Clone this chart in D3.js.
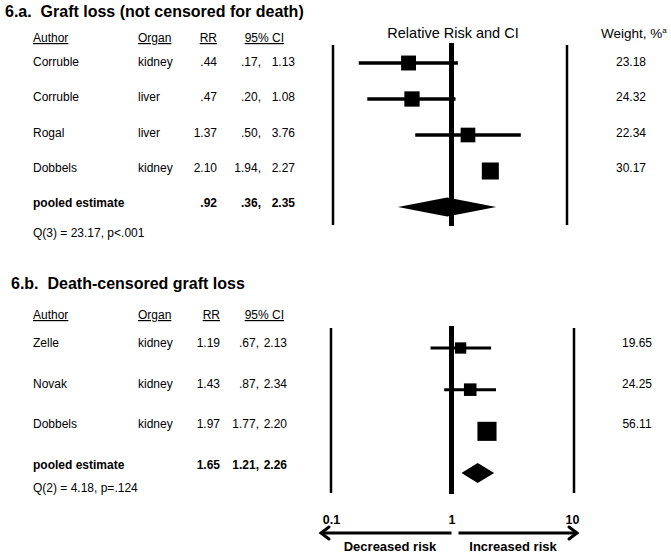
<!DOCTYPE html>
<html><head><meta charset="utf-8">
<script src="https://cdn.jsdelivr.net/npm/d3@7"></script>
<style>body{margin:0;background:#fff} text{font-family:"Liberation Sans",Arial,sans-serif;fill:#000}</style>
</head><body>
<svg id="c" width="671" height="555"></svg>
<script>
// ---- Data: panel 6.a ----
const authorsA = ["Corruble","Corruble","Rogal","Dobbels"];
const organsA  = ["kidney","liver","liver","kidney"];
const rrA      = [0.44, 0.47, 1.37, 2.10];
const loA      = [0.17, 0.20, 0.50, 1.94];
const hiA      = [1.13, 1.08, 3.76, 2.27];
const weightA  = [23.18, 24.32, 22.34, 30.17];
const pooledA  = [0.92, 0.36, 2.35];
const statA    = "Q(3) = 23.17, p<.001";
// ---- Data: panel 6.b ----
const authorsB = ["Zelle","Novak","Dobbels"];
const organsB  = ["kidney","kidney","kidney"];
const rrB      = [1.19, 1.43, 1.97];
const loB      = [0.67, 0.87, 1.77];
const hiB      = [2.13, 2.34, 2.20];
const weightB  = [19.65, 24.25, 56.11];
const pooledB  = [1.65, 1.21, 2.26];
const statB    = "Q(2) = 4.18, p=.124";
// ---- axis ----
const axisTicks = [0.1, 1, 10];
const axisTickLabels = ["0.1", "1", "10"];

const svg = d3.select("#c");
const x = d3.scaleLog().domain([0.1, 10]).range([331, 572]);
const fmt = v => d3.format(".2f")(v).replace(/^0\./, ".");

function panel(o) {
  const g = svg.append("g");
  const n = o.authors.length;
  const idx = d3.range(n + 1);
  const ty = d3.scalePoint().domain(idx).range(o.textRange);
  const my = d3.scalePoint().domain(idx).range(o.markRange);
  const sz = d3.scaleSqrt().domain([0, 100]).range([0, o.sizeMax]);

  g.append("text").attr("x", o.titleX).attr("y", o.titleY)
    .attr("font-size", 16).attr("font-weight", "bold").attr("xml:space","preserve").text(o.title);

  // headers
  const hdr = [
    {t: "Author", x: 33, a: "start"},
    {t: "Organ", x: 138, a: "start"},
    {t: "RR", x: o.rrX, a: "end"},
    {t: "95% CI", x: o.ciX, a: "end"}
  ];
  hdr.forEach(h => {
    const t = g.append("text").attr("x", h.x).attr("y", o.headY)
      .attr("font-size", 12).attr("text-anchor", h.a)
      .attr("text-decoration", "underline").text(h.t);
  });

  // rows
  o.authors.forEach((a, i) => {
    const y = ty(i) + 4;
    g.append("text").attr("x", 33).attr("y", y).attr("font-size", 12).text(a);
    g.append("text").attr("x", 138).attr("y", y).attr("font-size", 12).text(o.organs[i]);
    g.append("text").attr("x", o.rrX).attr("y", y).attr("font-size", 12).attr("text-anchor", "end").text(fmt(o.rr[i]));
    g.append("text").attr("x", o.loX).attr("y", y).attr("font-size", 12).attr("text-anchor", "end").text(fmt(o.lo[i]) + ",");
    g.append("text").attr("x", o.hiX).attr("y", y).attr("font-size", 12).attr("text-anchor", "end").text(fmt(o.hi[i]));
    g.append("text").attr("x", o.wX).attr("y", y).attr("font-size", 12).attr("text-anchor", "middle").text(d3.format(".2f")(o.weight[i]));
  });
  // pooled row
  const py = ty(n) + 4;
  g.append("text").attr("x", 33).attr("y", py).attr("font-size", 12).attr("font-weight", "bold").text("pooled estimate");
  g.append("text").attr("x", o.rrX).attr("y", py).attr("font-size", 12).attr("font-weight", "bold").attr("text-anchor", "end").text(fmt(o.pooled[0]));
  g.append("text").attr("x", o.loX).attr("y", py).attr("font-size", 12).attr("font-weight", "bold").attr("text-anchor", "end").text(fmt(o.pooled[1]) + ",");
  g.append("text").attr("x", o.hiX).attr("y", py).attr("font-size", 12).attr("font-weight", "bold").attr("text-anchor", "end").text(fmt(o.pooled[2]));
  g.append("text").attr("x", 33).attr("y", o.statY).attr("font-size", 12).text(o.stat);

  // frame lines
  g.append("line").attr("x1", x(0.1) + o.lOff).attr("x2", x(0.1) + o.lOff)
    .attr("y1", o.frameTop).attr("y2", o.frameBot).attr("stroke", "#000").attr("stroke-width", 2.5);
  g.append("line").attr("x1", x(10) + o.rOff).attr("x2", x(10) + o.rOff)
    .attr("y1", o.frameTop).attr("y2", o.frameBot).attr("stroke", "#000").attr("stroke-width", 2.5);
  g.append("line").attr("x1", x(1)).attr("x2", x(1))
    .attr("y1", o.frameTop - 2).attr("y2", o.frameBot + 1).attr("stroke", "#000").attr("stroke-width", 5);

  // CI lines & squares
  o.authors.forEach((a, i) => {
    const y = my(i);
    g.append("line").attr("x1", x(o.lo[i])).attr("x2", x(o.hi[i]))
      .attr("y1", y).attr("y2", y).attr("stroke", "#000").attr("stroke-width", o.ciW);
    const s = sz(o.weight[i]);
    g.append("rect").attr("x", x(o.rr[i]) - s / 2).attr("y", y - s / 2)
      .attr("width", s).attr("height", s).attr("fill", "#000");
  });
  // diamond
  const dy = my(n), dh = o.diamondH / 2;
  g.append("path").attr("d",
    `M${x(o.pooled[1])},${dy} L${x(o.pooled[0])},${dy - dh} L${x(o.pooled[2])},${dy} L${x(o.pooled[0])},${dy + dh} Z`)
    .attr("fill", "#000");
}

panel({
  title: "6.a.  Graft loss (not censored for death)", titleX: 5, titleY: 17,
  authors: authorsA, organs: organsA, rr: rrA, lo: loA, hi: hiA, weight: weightA, pooled: pooledA, stat: statA,
  headY: 42, textRange: [62, 203], markRange: [63, 207], statY: 237,
  rrX: 217, ciX: 284, loX: 261, hiX: 295, wX: 631,
  frameTop: 45, frameBot: 225, lOff: 2, rOff: -5, sizeMax: 31, ciW: 3.5, diamondH: 19
});
panel({
  title: "6.b.  Death-censored graft loss", titleX: 11, titleY: 289,
  authors: authorsB, organs: organsB, rr: rrB, lo: loB, hi: hiB, weight: weightB, pooled: pooledB, stat: statB,
  headY: 319, textRange: [343, 465], markRange: [348, 473], statY: 492,
  rrX: 220, ciX: 284, loX: 259, hiX: 287, wX: 637,
  frameTop: 328, frameBot: 493, lOff: 0, rOff: 2, sizeMax: 25.5, ciW: 3, diamondH: 20
});

// top header labels
svg.append("text").attr("x", 453).attr("y", 38).attr("font-size", 14.5).attr("text-anchor", "middle").text("Relative Risk and CI");
const wt = svg.append("text").attr("x", 601).attr("y", 38).attr("font-size", 13.5);
wt.append("tspan").text("Weight, %");
wt.append("tspan").attr("font-size", 8).attr("dy", -5).text("a");

// axis
const ax = svg.append("g").attr("transform", "translate(0,512)")
  .call(d3.axisBottom(x).tickValues(axisTicks).tickSize(0).tickFormat((d, i) => axisTickLabels[i]));
ax.select(".domain").remove();
ax.selectAll("text").attr("font-size", 12.5).attr("font-weight", "bold")
  .attr("font-family", '"Liberation Sans",Arial,sans-serif').attr("fill", "#000").attr("dy", "0.35em").attr("y", 8);

// arrows
const ay = 533;
svg.append("line").attr("x1", x(1)).attr("x2", x(0.1) - 10).attr("y1", ay).attr("y2", ay).attr("stroke", "#000").attr("stroke-width", 3);
svg.append("path").attr("d", `M${x(0.1) - 2},${ay - 6} L${x(0.1) - 10},${ay} L${x(0.1) - 2},${ay + 6}`)
  .attr("fill", "none").attr("stroke", "#000").attr("stroke-width", 3).attr("stroke-linecap", "round").attr("stroke-linejoin", "miter");
svg.append("line").attr("x1", x(1) + 7).attr("x2", x(10) + 5).attr("y1", ay).attr("y2", ay).attr("stroke", "#000").attr("stroke-width", 3);
svg.append("path").attr("d", `M${x(10) - 3},${ay - 6} L${x(10) + 5},${ay} L${x(10) - 3},${ay + 6}`)
  .attr("fill", "none").attr("stroke", "#000").attr("stroke-width", 3).attr("stroke-linecap", "round");
svg.append("text").attr("x", 390).attr("y", 551).attr("font-size", 13).attr("font-weight", "bold").attr("text-anchor", "middle").text("Decreased risk");
svg.append("text").attr("x", 513).attr("y", 551).attr("font-size", 13).attr("font-weight", "bold").attr("text-anchor", "middle").text("Increased risk");
</script>
</body></html>
